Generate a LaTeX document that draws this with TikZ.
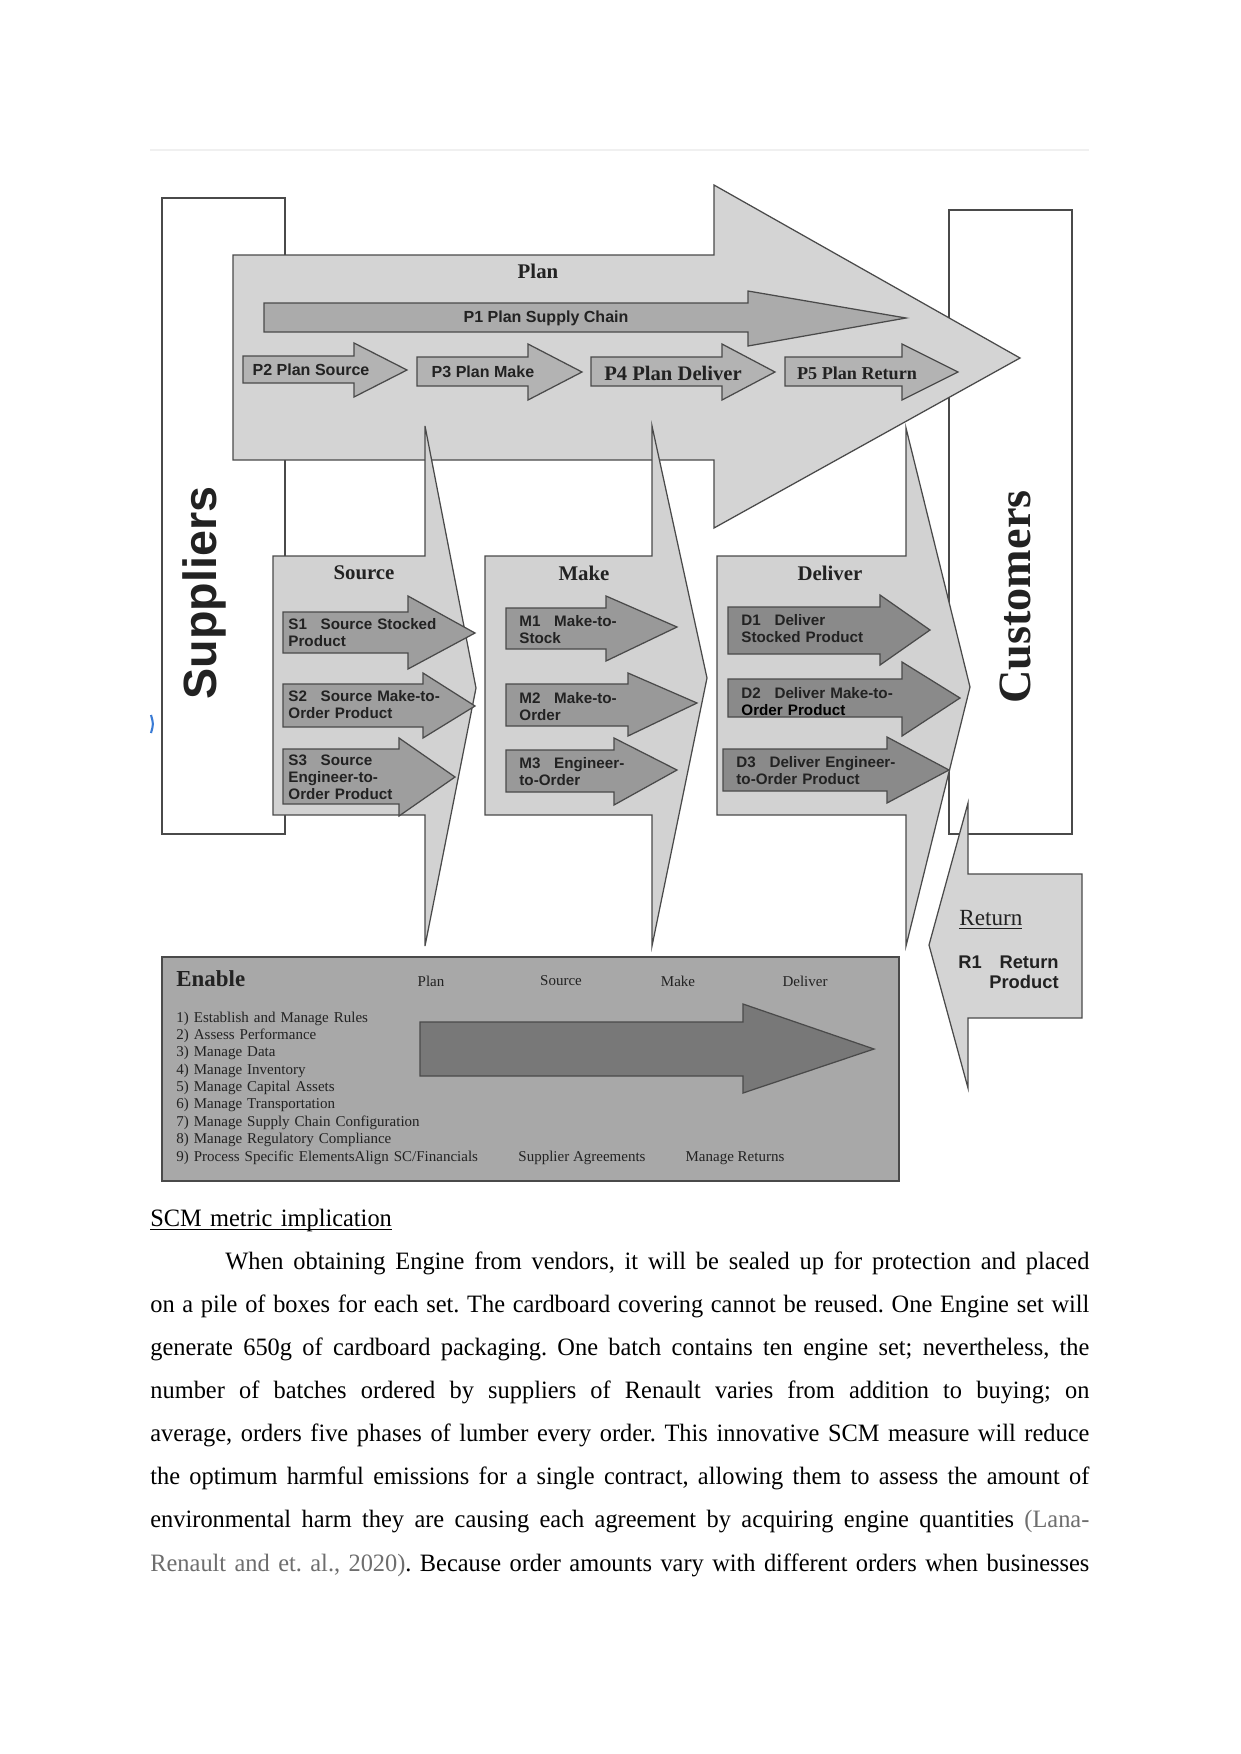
\documentclass[tikz,border=0pt]{standalone}
\usepackage{fontspec}
\setmainfont{Liberation Serif}
\setsansfont{Liberation Sans}
\newfontfamily\bodyfont[FakeStretch=0.975]{Liberation Serif}
\usetikzlibrary{positioning}

\definecolor{linegray}{HTML}{4A4A4A}
\definecolor{planfill}{HTML}{D4D4D4}
\definecolor{panelfill}{HTML}{D2D2D2}
\definecolor{pfill}{HTML}{B3B3B3}
\definecolor{ponefill}{HTML}{ABABAB}
\definecolor{sfill}{HTML}{9E9E9E}
\definecolor{mfill}{HTML}{999999}
\definecolor{dfill}{HTML}{8A8A8A}
\definecolor{enablefill}{HTML}{A8A8A8}
\definecolor{enablearrow}{HTML}{787878}
\definecolor{textdark}{HTML}{222222}
\definecolor{citegray}{HTML}{6E6E6E}
\definecolor{cursorblue}{HTML}{3A7BD5}

% block arrow: style, x left, y top, y bottom, x head, y head top, y head bottom, x tip, y tip
\newcommand{\blockarrow}[9]{\draw[#1] (#2,#3) -- (#5,#3) -- (#5,#6) -- (#8,#9) -- (#5,#7) -- (#5,#4) -- (#2,#4) -- cycle;}
% one justified line of the body text
\newlength{\bodywidth}
\setlength{\bodywidth}{450.7pt}
\newcommand{\bodyline}[1]{\hbox to\bodywidth{\spaceskip=2.9pt plus 8pt minus 1.2pt\relax #1}}

\begin{document}
\begin{tikzpicture}[x=0.48pt, y=-0.48pt,
    outline/.style={draw=linegray, line width=0.6pt},
    side_box/.style={outline, fill=white},
    plan_arrow/.style={outline, fill=planfill},
    panel_arrow/.style={outline, fill=panelfill},
    p_arrow/.style={outline, fill=pfill},
    s_arrow/.style={outline, fill=sfill},
    m_arrow/.style={outline, fill=mfill},
    d_arrow/.style={outline, fill=dfill},
    section_label/.style={font=\bfseries\fontsize{10}{12}\selectfont, text=textdark, inner sep=0pt},
    p_label/.style={font=\sffamily\bfseries\fontsize{7.7}{9}\selectfont, text=textdark, inner sep=0pt},
    p_serif_label/.style={font=\bfseries\fontsize{#1}{11}\selectfont, text=textdark, inner sep=0pt},
    step_text/.style={font=\sffamily\bfseries\fontsize{7.3}{8.2}\selectfont, text=textdark, inner sep=0pt, anchor=base west, text width=3.2cm, align=left},
    enable_text/.style={font=\fontsize{7.2}{8.35}\selectfont, text=textdark, inner sep=0pt},
    big_label/.style={font=\bfseries\fontsize{22.4}{24}\selectfont, text=textdark, inner sep=0pt, rotate=90}
]
\useasboundingbox (0,0) rectangle (1241,1754);
\fill[white] (0,0) rectangle (1241,1754);

% faint frame line of the figure
\draw[black!6, line width=0.5pt] (150,150) -- (1089,150);
\draw[cursorblue, line width=1pt] (151,715) .. controls (153.5,724) .. (151,733);

% Suppliers and Customers
\draw[side_box] (162,198) rectangle (285,834);
\draw[side_box] (949,210) rectangle (1072,834);

% Plan
\blockarrow{plan_arrow}{233}{255}{460}{714}{185}{528}{1020}{358}
\blockarrow{outline, fill=ponefill}{264}{303}{332}{748}{291}{346}{906}{318}
\blockarrow{p_arrow}{243}{356}{383}{354}{343}{397}{407}{370}
\blockarrow{p_arrow}{417}{357}{386}{528}{344}{400}{582}{372}
\blockarrow{p_arrow}{591}{357}{386}{722}{344}{400}{775}{372}
\blockarrow{p_arrow}{785}{357}{386}{902}{344}{400}{958}{372}

% Source, Make, Deliver
\blockarrow{panel_arrow}{273}{556}{815}{425}{426}{946}{476}{688}
\blockarrow{panel_arrow}{485}{556}{815}{652}{426}{946}{707}{678}
\blockarrow{panel_arrow}{717}{556}{815}{906}{428}{946}{970}{687}

\blockarrow{s_arrow}{283}{612}{653}{408}{596}{669}{475}{633}
\blockarrow{s_arrow}{283}{684}{727}{423}{673}{738}{475}{706}
\blockarrow{s_arrow}{283}{749}{804}{399}{738}{816}{455}{777}

\blockarrow{m_arrow}{506}{608}{649}{606}{596}{661}{677}{627}
\blockarrow{m_arrow}{506}{684}{726}{628}{673}{736}{697}{703}
\blockarrow{m_arrow}{506}{750}{792}{614}{738}{805}{677}{770}

\blockarrow{d_arrow}{728}{607}{654}{880}{595}{665}{930}{630}
\blockarrow{d_arrow}{728}{679}{717}{902}{662}{736}{960}{698}
\blockarrow{d_arrow}{723}{749}{791}{887}{737}{803}{949}{770}

% Return
\blockarrow{plan_arrow}{1082}{874}{1018}{968}{803}{1088}{929}{945}

% Enable
\draw[outline, fill=enablefill] (162,957) rectangle (899,1181);
\blockarrow{outline, fill=enablearrow}{420}{1022}{1076}{743}{1004}{1093}{874}{1049}

% labels
\node[big_label] (suppliers) at (204,593) {\sffamily Suppliers};
\node[big_label, font=\bfseries\fontsize{22.2}{24}\selectfont] (customers) at (1015,597) {Customers};

\node[section_label] (planlbl) at (538,271) {Plan};
\node[p_label] (pone) at (546,318) {P1 Plan Supply Chain};
\node[p_label] (ptwo) at (311,370) {P2 Plan Source};
\node[p_label] (pthree) at (483,372) {P3 Plan Make};
\node[p_serif_label=9.9] (pfour) at (673,373) {P4 Plan Deliver};
\node[p_serif_label=8.7] (pfive) at (857,373) {P5 Plan Return};

\node[section_label] (sourcelbl) at (364,573) {Source};
\node[section_label] (makelbl) at (584,573) {Make};
\node[section_label] (deliverlbl) at (830,573) {Deliver};

\node[step_text] (sone) at (288,629) {S1\hspace{0.9em}Source Stocked\\Product};
\node[step_text] (stwo) at (288,701) {S2\hspace{0.9em}Source Make-to-\\Order Product};
\node[step_text] (sthree) at (288,765) {S3\hspace{0.9em}Source\\Engineer-to-\\Order Product};
\node[step_text] (mone) at (519,626) {M1\hspace{0.9em}Make-to-\\Stock};
\node[step_text] (mtwo) at (519,703) {M2\hspace{0.9em}Make-to-\\Order};
\node[step_text] (mthree) at (519,768) {M3\hspace{0.9em}Engineer-\\to-Order};
\node[step_text] (done) at (741,625) {D1\hspace{0.9em}Deliver\\Stocked Product};
\node[step_text] (dtwo) at (741,698) {D2\hspace{0.9em}Deliver Make-to-\\\textcolor{black}{Order Product}};
\node[step_text] (dthree) at (736,767) {D3\hspace{0.9em}Deliver Engineer-\\to-Order Product};

\node[font=\fontsize{11.1}{13}\selectfont, text=textdark, inner sep=0pt, anchor=west] (returnlbl) at (959,920) {\underline{Return}};
\node[font=\sffamily\bfseries\fontsize{8.8}{10}\selectfont, text=textdark, inner sep=0pt, anchor=base west] (rone) at (958,968)
  {\begin{tabular}[t]{@{}l@{\hspace{3.6pt}}r@{}}R1 & Return\\ & Product\end{tabular}};

\node[font=\bfseries\fontsize{11}{13}\selectfont, text=textdark, inner sep=0pt, anchor=west] (enablelbl) at (176,979) {Enable};
\node[enable_text] (colplan) at (431,981) {Plan};
\node[enable_text] (colsource) at (561,981) {Source};
\node[enable_text] (colmake) at (678,981) {Make};
\node[enable_text] (coldeliver) at (805,981) {Deliver};
\node[enable_text, anchor=base west, text width=8cm, align=left] (enablelist) at (176,1022)
  {1) Establish and Manage Rules\\2) Assess Performance\\3) Manage Data\\4) Manage Inventory\\5) Manage Capital Assets\\6) Manage Transportation\\7) Manage Supply Chain Configuration\\8) Manage Regulatory Compliance\\9) Process Specific ElementsAlign SC/Financials};
\node[enable_text] (supagree) at (582,1158) {Supplier Agreements};
\node[enable_text] (manret) at (735,1158) {Manage Returns};

% body text below the figure
\node[anchor=base west, inner sep=0pt, text width=\bodywidth, font=\bodyfont\fontsize{12}{20.7}\selectfont] (bodytext) at (150,1226) {%
\frenchspacing
\underline{\smash{SCM metric implication}}\par
\bodyline{\hspace*{36pt}When obtaining Engine from vendors, it will be sealed up for protection and placed}
\bodyline{on a pile of boxes for each set. The cardboard covering cannot be reused. One Engine set will}
\bodyline{generate 650g of cardboard packaging. One batch contains ten engine set; nevertheless, the}
\bodyline{number of batches ordered by suppliers of Renault varies from addition to buying; on}
\bodyline{average, orders five phases of lumber every order. This innovative SCM measure will reduce}
\bodyline{the optimum harmful emissions for a single contract, allowing them to assess the amount of}
\bodyline{environmental harm they are causing each agreement by acquiring engine quantities {\color{citegray}(Lana-}}
\bodyline{{\color{citegray}Renault and et. al., 2020)}. Because order amounts vary with different orders when businesses}};

\end{tikzpicture}
\end{document}
